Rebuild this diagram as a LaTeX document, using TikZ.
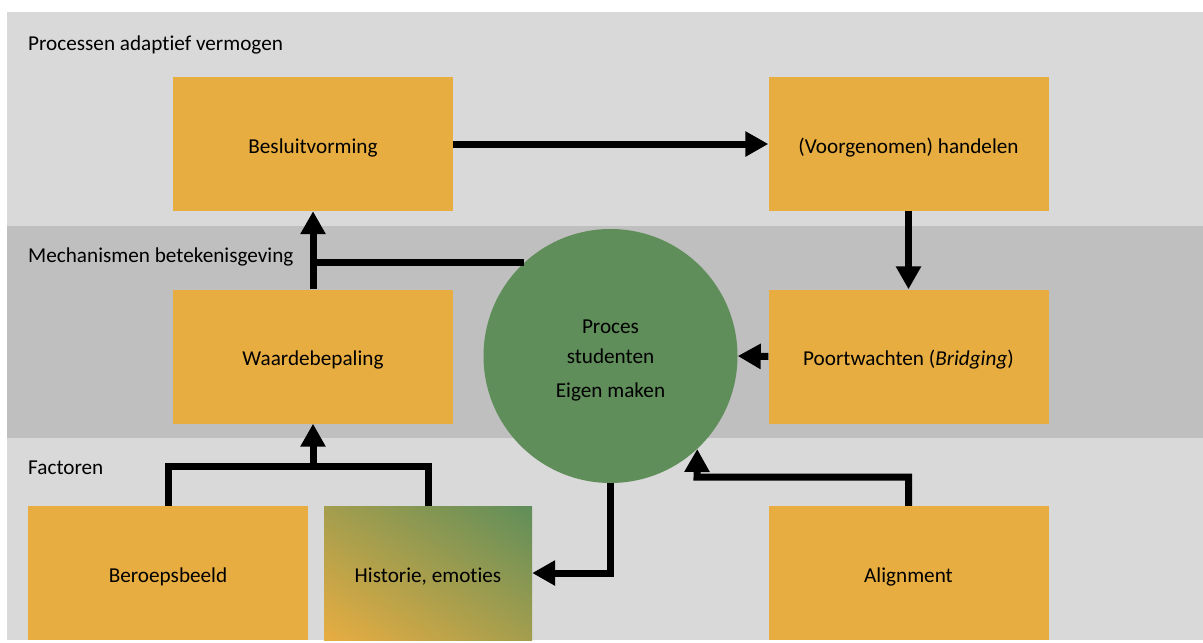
\documentclass[tikz,border=0pt]{standalone}
\usepackage{fontspec}
\setmainfont[Ligatures=NoCommon]{Carlito}
\usetikzlibrary{arrows.meta,shadings}
\definecolor{bandlight}{HTML}{D9D9D9}
\definecolor{banddark}{HTML}{BFBFBF}
\definecolor{gold}{HTML}{E8AD41}
\definecolor{leaf}{HTML}{5F8E5A}
\colorlet{goldleaf}{gold!50!leaf}
\tikzset{
  band/.style={fill=#1, draw=none},
  bandlabel/.style={anchor=base west, inner sep=0pt, font=\fontsize{21.2}{24}\selectfont},
  block/.style={fill=gold, draw=none, minimum width=280pt, minimum height=134pt,
    inner sep=0pt, text height=22pt, text depth=4pt,
    font=\fontsize{21.2}{24}\selectfont},
  hub/.style={circle, fill=leaf, draw=none, minimum size=254pt, inner sep=0pt},
  hubtext/.style={align=center, inner sep=0pt, font=\fontsize{21.2}{30}\selectfont},
  conn/.style={line width=7pt, line join=miter, -{Triangle[length=23pt 0, width=24pt 0]}},
  link/.style={line width=7pt, line join=miter}
}
\begin{document}
\begin{tikzpicture}[x=1pt, y=-1pt]
\useasboundingbox (0,0) rectangle (1203,643);
% layer bands
\fill[band=bandlight] (7,12) rectangle (1203,226);
\fill[band=banddark] (7,226) rectangle (1203,438);
\fill[band=bandlight] (7,438) rectangle (1203,640);
\node[bandlabel] (lproc) at (28,50) {Processen adaptief vermogen};
\node[bandlabel] (lmech) at (28,262) {Mechanismen betekenisgeving};
\node[bandlabel] (lfact) at (28,474) {Factoren};

% blocks
\node[block] (bes) at (313,144) {Besluitvorming};
\node[block] (hand) at (908.5,144) {(Voorgenomen) handelen};
\node[block] (waarde) at (313,356.5) {Waardebepaling};
\node[block] (poort) at (908.5,356.5) {Poortwachten (\textit{Bridging})};
\node[block] (bero) at (168,573) {Beroepsbeeld};
\node[block, minimum width=208pt, upper right=leaf, lower left=gold,
  upper left=goldleaf, lower right=goldleaf] (hist) at (428,573) {Historie, emoties};
\node[block] (align) at (908.5,573) {Alignment};

% central circle and its text
\node[hub] (circ) at (610.5,356) {};
\node[hubtext] (circtext) at (610.5,361) {Proces\\studenten\\[4pt]Eigen maken};

% junction points
\coordinate (jb) at (313,466);
\coordinate (ja) at (697,477);

% connectors
\draw[conn] (bes.east) -- (hand.west);
\draw[conn] (hand.south) -- (poort.north);
\draw[conn] (poort.west) -- (circ.east);
\draw[conn] (waarde.north) -- (bes.south);
\draw[link] (circ.133) -- (circ.133 -| waarde.north);
\draw[link] (bero.north) -- (bero.north |- jb) -- (hist.north |- jb) -- (hist.north);
\draw[conn] (jb) -- (waarde.south);
\draw[conn] (circ.south) |- (hist.east);
\draw[conn] (align.north) |- (ja) -- (circ.-47);
\end{tikzpicture}
\end{document}
